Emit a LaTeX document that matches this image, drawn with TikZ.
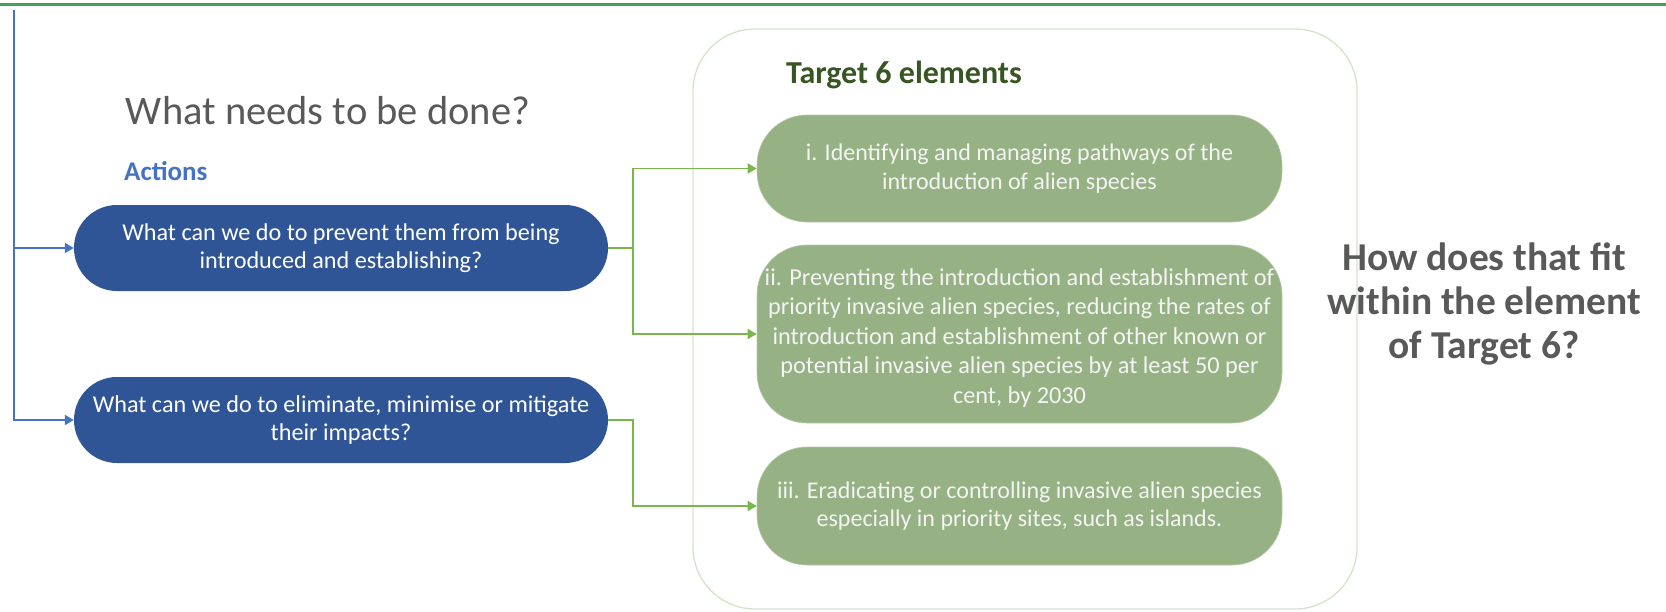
\documentclass[tikz,border=0pt]{standalone}
\usepackage{fontspec}
\setmainfont{Carlito}
\usetikzlibrary{arrows.meta}
\definecolor{topgreen}{HTML}{3FA35B}
\definecolor{lineblue}{HTML}{4472C4}
\definecolor{boxblue}{HTML}{2F5597}
\definecolor{sage}{HTML}{96B284}
\definecolor{sageedge}{HTML}{B4C9A6}
\definecolor{connGreen}{HTML}{79B64C}
\definecolor{outerEdge}{HTML}{D3E4C9}
\definecolor{darkgreen}{HTML}{375623}
\definecolor{txtgray}{HTML}{595959}
\definecolor{offwhite}{HTML}{F4F4F4}
\begin{document}
\begin{tikzpicture}[x=1pt,y=-1pt,
  bluebox/.style={fill=boxblue, text=white, rounded corners=43pt, minimum width=534pt, minimum height=86pt, inner sep=0pt, align=center, font=\fontsize{24.2}{28.5}\selectfont},
  greenbox/.style={fill=sage, draw=sageedge, line width=0.6pt, text=offwhite, rounded corners=50pt, minimum width=525pt, inner sep=0pt, align=center, font=\fontsize{24}{28.5}\selectfont},
  greentext/.style={text=offwhite, inner sep=0pt, align=center},
  bluearrow/.style={draw=lineblue, line width=1.8pt, -{Triangle[length=9pt,width=10pt]}},
  greenarrow/.style={draw=connGreen, line width=1.8pt, -{Triangle[length=9pt,width=10pt]}}
]
\useasboundingbox (0,0) rectangle (1666,611);
% top rule
\coordinate (tl) at (0,4.5);
\coordinate (tr) at (1666,4.5);
\draw[topgreen, line width=2.6pt] (tl) -- (tr);

% outer frame
\draw[outerEdge, line width=1.3pt, rounded corners=62pt] (693,29) rectangle (1357,609);

% texts
\node[text=txtgray, font=\fontsize{40.5}{48}\selectfont, inner sep=0pt] (title) at (328,111) {What needs to be done?};
\node[text=lineblue, font=\fontsize{27}{32}\bfseries\selectfont, anchor=west, inner sep=0pt] (actions) at (124,171) {Actions};
\node[text=darkgreen, font=\fontsize{32}{38}\bfseries\selectfont, anchor=west, inner sep=0pt] (t6) at (786,75) {Target 6 elements};
\node[text=txtgray, font=\fontsize{39.5}{44}\bfseries\selectfont, align=center, inner sep=0pt] (q) at (1484,304) {How does that fit\\within the element\\of Target 6?};

% blue boxes
\node[bluebox] (b1) at (341,248) {What can we do to prevent them from being\\introduced and establishing?};
\node[bluebox] (b2) at (341,420) {What can we do to eliminate, minimise or mitigate\\their impacts?};

% green boxes
\node[greenbox, minimum height=107pt] (g1) at (1019.5,168.5) {i. Identifying and managing pathways of the\\introduction of alien species};
\node[greenbox, minimum height=178pt] (g2) at (1019.5,334) {};
\node[greentext, font=\fontsize{24.3}{29.5}\selectfont] (g2t) at ([yshift=-4pt]g2.center) {ii. Preventing the introduction and establishment of\\priority invasive alien species, reducing the rates of\\introduction and establishment of other known or\\potential invasive alien species by at least 50 per\\cent, by 2030};
\node[greenbox, minimum height=118pt] (g3) at (1019.5,506) {iii. Eradicating or controlling invasive alien species\\especially in priority sites, such as islands.};

% blue connectors
\coordinate (vtop) at (14,10);
\draw[bluearrow] (vtop) |- (b1.west);
\draw[bluearrow] (vtop) |- (b2.west);

% green connectors
\draw[greenarrow] (b1.east) -- ++(25,0) |- (g1.west);
\draw[greenarrow] (b1.east) -- ++(25,0) |- (g2.west);
\draw[greenarrow] (b2.east) -- ++(25,0) |- (g3.west);
\end{tikzpicture}
\end{document}
